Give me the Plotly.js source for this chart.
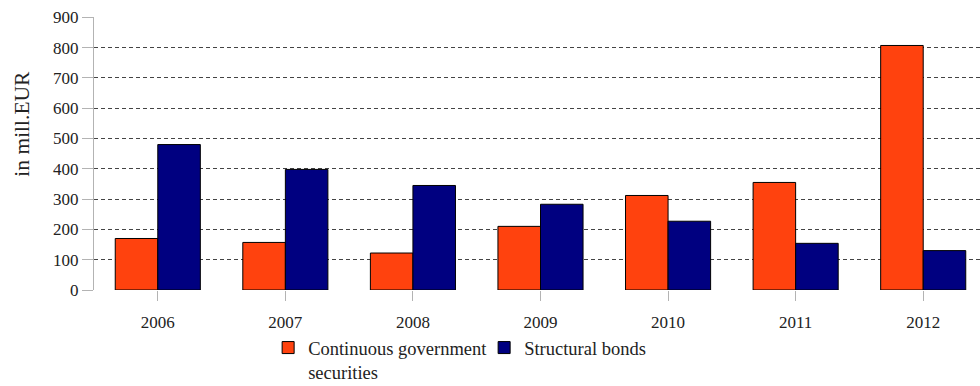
<!DOCTYPE html>
<html>
<head>
<meta charset="utf-8">
<script src="https://cdn.plot.ly/plotly-3.0.1.min.js"></script>
<style>
html,body{margin:0;padding:0;overflow:hidden;background:#fff;}
#chart{width:987px;height:410px;}
</style>
</head>
<body>
<div id="chart"></div>
<script>
const years = ["2006","2007","2008","2009","2010","2011","2012"];
const continuousGov = [170, 157, 122, 210, 312, 355, 807];
const structuralBonds = [480, 398, 345, 283, 227, 154, 130];
const seriesNames = ["Continuous government<br>securities", "Structural bonds"];
const yTicks = [0,100,200,300,400,500,600,700,800,900];

const FONT = "Liberation Serif, serif";

const traces = [
  {type:"bar", x:years, y:continuousGov, name:seriesNames[0],
   marker:{color:"#ff420e", line:{color:"#000", width:1}}},
  {type:"bar", x:years, y:structuralBonds, name:seriesNames[1],
   marker:{color:"#000080", line:{color:"#000", width:1}}}
];

const layout = {
  width:987, height:410,
  margin:{l:94, r:0, t:17, b:120, pad:0},
  paper_bgcolor:"#fff", plot_bgcolor:"#fff",
  font:{family:FONT, size:17, color:"#222"},
  barmode:"group", bargap:0.333, bargroupgap:0,
  showlegend:true,
  legend:{orientation:"h", x:0.195, y:-0.143, xanchor:"left", yanchor:"top",
          valign:"top", font:{family:FONT, size:18.5, color:"#222"},
          itemwidth:30, tracegroupgap:0, entrywidth:171, entrywidthmode:"pixels"},
  xaxis:{type:"category", showgrid:false, showline:false, zeroline:false,
         ticks:"outside", ticklen:10, tickcolor:"#b3b3b3", tickwidth:1,
         ticklabelstandoff:7,
         tickfont:{family:FONT, size:17, color:"#222"}, fixedrange:true},
  yaxis:{range:[0,901], tickvals:yTicks, ticktext:yTicks.map(String),
         showgrid:true, gridcolor:"#444", griddash:"4px,3px", gridwidth:1,
         zeroline:false, showline:true, linecolor:"#b3b3b3", linewidth:1,
         ticks:"outside", ticklen:11, tickcolor:"#b3b3b3",
         tickfont:{family:FONT, size:17, color:"#222"}, fixedrange:true},
  annotations:[{text:"in mill.EUR", xref:"paper", yref:"paper",
    x:-0.081, y:0.608, textangle:-90, showarrow:false,
    xanchor:"center", yanchor:"middle",
    font:{family:FONT, size:21.5, color:"#222"}}]
};

Plotly.newPlot("chart", traces, layout, {displayModeBar:false, staticPlot:true});
</script>
</body>
</html>
